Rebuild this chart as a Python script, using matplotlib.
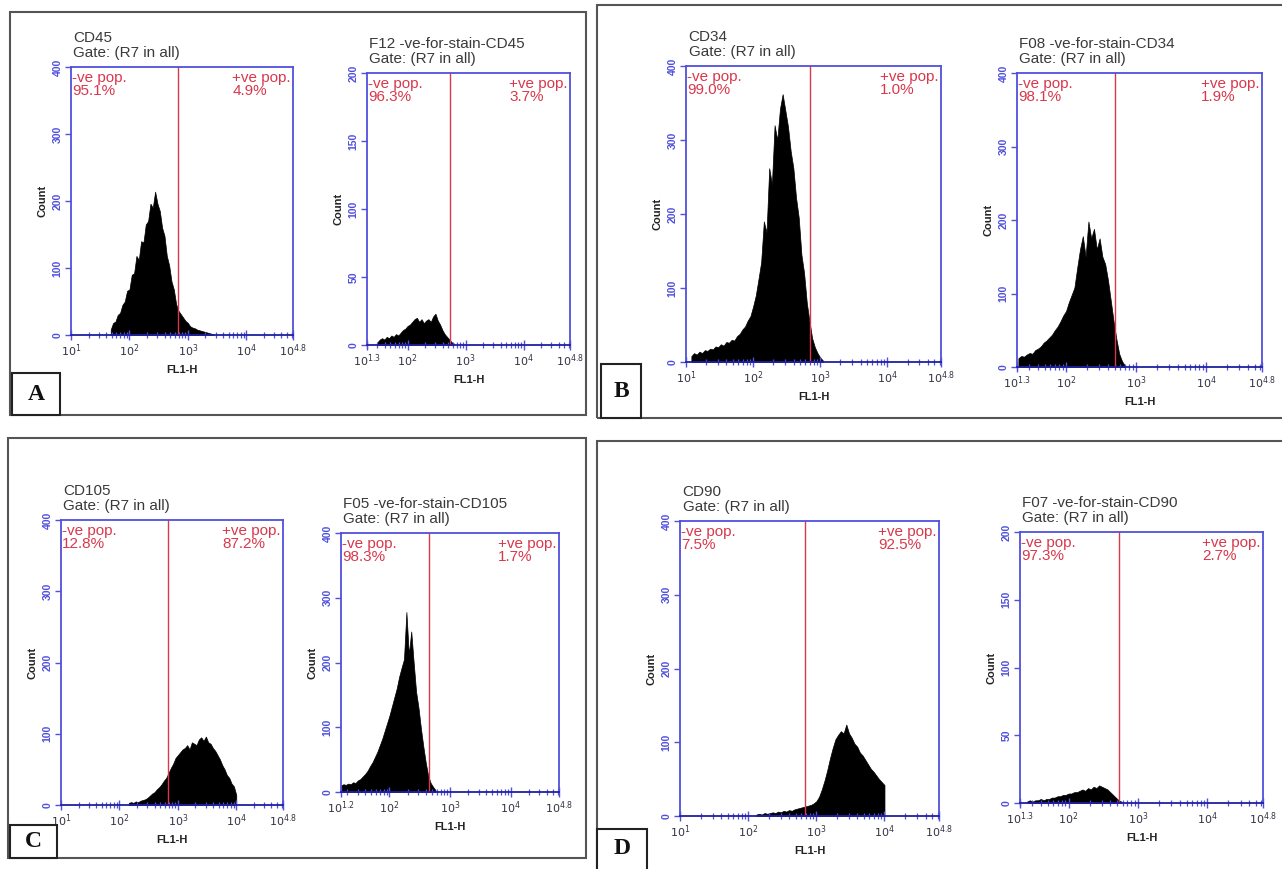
import numpy as np
import matplotlib
matplotlib.use("Agg")
import matplotlib.pyplot as plt
from matplotlib.patches import Rectangle
from matplotlib.ticker import FixedLocator, NullFormatter

plt.rcParams['font.family'] = ['Liberation Sans', 'DejaVu Sans']

# ---------------- data ----------------
STEP = 0.04  # histogram channel width in log10 units

titles = ["CD45", "F12 -ve-for-stain-CD45", "CD34", "F08 -ve-for-stain-CD34",
          "CD105", "F05 -ve-for-stain-CD105", "CD90", "F07 -ve-for-stain-CD90"]
neg_pct = ["95.1%", "96.3%", "99.0%", "98.1%", "12.8%", "98.3%", "7.5%", "97.3%"]
pos_pct = ["4.9%", "3.7%", "1.0%", "1.9%", "87.2%", "1.7%", "92.5%", "2.7%"]
gate_log = [2.83, 2.73, 2.85, 2.70, 2.83, 2.66, 2.83, 2.73]
x_min_log = [1.0, 1.3, 1.0, 1.3, 1.0, 1.2, 1.0, 1.3]
x_max_log = 4.8
y_max = [400, 200, 400, 400, 400, 400, 400, 200]
y_ticks = [[0, 100, 200, 300, 400], [0, 50, 100, 150, 200],
           [0, 100, 200, 300, 400], [0, 100, 200, 300, 400],
           [0, 100, 200, 300, 400], [0, 100, 200, 300, 400],
           [0, 100, 200, 300, 400], [0, 50, 100, 150, 200]]
panel_letters = ["A", "B", "C", "D"]

# histogram start (log10 FL1-H) and counts per channel
cd45_start = 1.68
cd45_counts = [8, 18, 20, 30, 33, 45, 50, 66, 68, 90, 92, 118, 112, 140, 138, 165,
               170, 196, 190, 214, 196, 185, 160, 148, 118, 104, 80, 68, 46, 36, 31,
               26, 21, 18, 13, 11, 10, 8, 7, 6, 5, 4, 3, 2, 1]
f12_start = 1.48
f12_counts = [2, 4, 5, 4, 6, 5, 7, 6, 8, 7, 9, 11, 12, 14, 15, 17, 19, 20, 17, 19,
              16, 18, 19, 17, 21, 23, 18, 15, 11, 8, 6, 4, 2, 1]
cd34_start = 1.08
cd34_counts = [8, 12, 10, 14, 12, 16, 15, 18, 17, 21, 20, 24, 22, 27, 26, 30, 29, 35,
               38, 44, 48, 56, 62, 75, 90, 112, 135, 190, 175, 262, 240, 320, 300,
               342, 362, 340, 318, 285, 262, 222, 195, 145, 120, 80, 55, 32, 20, 12,
               6, 2]
f08_start = 1.32
f08_counts = [12, 15, 14, 17, 19, 18, 23, 25, 28, 33, 36, 40, 44, 50, 55, 62, 70, 76,
              88, 98, 108, 135, 160, 178, 150, 198, 175, 188, 160, 175, 150, 140, 118,
              90, 62, 38, 18, 8, 2]
cd105_start = 2.16
cd105_counts = [3, 4, 3, 5, 4, 6, 7, 8, 10, 13, 16, 18, 22, 25, 29, 34, 38, 45, 52, 58,
                66, 70, 74, 78, 80, 84, 78, 88, 86, 84, 92, 95, 90, 96, 88, 86, 80, 76,
                70, 64, 56, 50, 42, 38, 30, 26, 14]
f05_start = 1.20
f05_counts = [10, 12, 11, 13, 12, 15, 14, 18, 20, 24, 28, 33, 40, 46, 54, 62, 72, 82,
              94, 106, 118, 132, 146, 160, 178, 192, 205, 278, 212, 248, 200, 155, 130,
              98, 70, 45, 25, 14, 8, 3]
cd90_start = 2.12
cd90_counts = [2, 3, 2, 4, 3, 4, 5, 4, 6, 5, 7, 6, 8, 7, 9, 10, 11, 12, 13, 14, 15, 17,
               20, 26, 36, 48, 62, 78, 92, 104, 110, 115, 112, 124, 112, 106, 98, 94,
               86, 82, 76, 70, 64, 60, 55, 50, 46, 42]
f07_start = 1.40
f07_counts = [1, 2, 1, 2, 2, 3, 2, 3, 3, 4, 4, 5, 5, 6, 6, 7, 7, 8, 8, 9, 10, 9, 11, 10,
              12, 11, 13, 12, 11, 10, 8, 6, 4, 2, 1]

hist_starts = [cd45_start, f12_start, cd34_start, f08_start,
               cd105_start, f05_start, cd90_start, f07_start]
hist_counts = [cd45_counts, f12_counts, cd34_counts, f08_counts,
               cd105_counts, f05_counts, cd90_counts, f07_counts]

# ---------------- layout (pixels of 1282x869 image) ----------------
W, H = 1282, 869
axes_px = [(71, 67, 293, 335), (367, 73, 570, 345),
           (686, 66, 941, 362), (1017, 73, 1262, 367),
           (61, 520, 283, 805), (341, 533, 559, 792),
           (680, 521, 939, 816), (1020, 532, 1263, 803)]
panel_px = [(10, 12, 586, 415), (597, 5, 1290, 418),
            (8, 438, 586, 858), (597, 441, 1290, 880)]
letter_px = [(12, 373, 60, 415), (601, 364, 641, 418),
             (10, 825, 57, 858), (597, 829, 647, 880)]

BLUE = "#5050dd"
NAVY = "#2020a0"
RED = "#d8384c"

fig = plt.figure(figsize=(W / 100, H / 100), dpi=100)
fig.patch.set_facecolor("white")


def frac_rect(x0, y0, x1, y1):
    return (x0 / W, 1 - y1 / H, (x1 - x0) / W, (y1 - y0) / H)


def lab(v):
    e = np.log10(v)
    if abs(e - round(e)) < 1e-6:
        return r"$10^{%d}$" % round(e)
    return r"$10^{%.1f}$" % e


for i in range(8):
    l, b, w, h = frac_rect(*axes_px[i])
    hpx = axes_px[i][3] - axes_px[i][1]
    ax = fig.add_axes([l, b, w, h])
    xs = 10 ** (hist_starts[i] + STEP * np.arange(len(hist_counts[i])))
    ax.fill_between(xs, hist_counts[i], 0, color="black", lw=0.5, edgecolor="black")
    ax.set_xscale("log")
    xlo = 10 ** x_min_log[i]
    xhi = 10 ** x_max_log
    ax.set_xlim(xlo, xhi)
    ax.set_ylim(0, y_max[i])
    ax.axvline(10 ** gate_log[i], color=RED, lw=1.0)

    major = [xlo] + [10 ** k for k in (2, 3, 4)] + [xhi]
    ax.xaxis.set_major_locator(FixedLocator(major))
    ax.set_xticklabels([lab(v) for v in major])
    minors = [m * 10 ** k for k in range(1, 5) for m in range(2, 10)
              if xlo < m * 10 ** k < xhi]
    ax.xaxis.set_minor_locator(FixedLocator(minors))
    ax.xaxis.set_minor_formatter(NullFormatter())
    ax.tick_params(axis="x", which="major", direction="inout", length=7, width=1.0,
                   color=BLUE, labelsize=8, labelcolor="#333344", pad=2)
    ax.tick_params(axis="x", which="minor", direction="inout", length=5, width=0.9,
                   color=BLUE)
    ax.set_yticks(y_ticks[i])
    ax.tick_params(axis="y", direction="out", length=4, width=1.0, color=BLUE,
                   labelsize=7.5, labelcolor=BLUE, pad=2)
    for t in ax.get_yticklabels():
        t.set_rotation(90)
        t.set_va("center")
        t.set_fontweight("bold")
    for s in ("top", "right", "left"):
        ax.spines[s].set_color(BLUE)
        ax.spines[s].set_linewidth(1.3)
    ax.spines["bottom"].set_color(NAVY)
    ax.spines["bottom"].set_linewidth(1.3)

    ax.set_xlabel("FL1-H", fontsize=8, fontweight="bold", color="#222222", labelpad=4)
    ax.set_ylabel("Count", fontsize=8, fontweight="bold", color="#222222", labelpad=4)

    ax.text(0.01, 1 + 7 / hpx, titles[i] + "\nGate: (R7 in all)",
            transform=ax.transAxes, ha="left", va="bottom", fontsize=11,
            color="#3a3a3a", linespacing=1.1)
    ax.text(0.005, 1 - 4 / hpx, "-ve pop.\n" + neg_pct[i], transform=ax.transAxes,
            ha="left", va="top", fontsize=11, color=RED, linespacing=0.95)
    ax.text(0.99, 1 - 4 / hpx, "+ve pop.\n" + pos_pct[i], transform=ax.transAxes,
            ha="right", va="top", fontsize=11, color=RED, linespacing=0.95,
            multialignment="left")

for j in range(4):
    x0, y0, x1, y1 = panel_px[j]
    fig.add_artist(Rectangle((x0 / W, 1 - y1 / H), (x1 - x0) / W, (y1 - y0) / H,
                             transform=fig.transFigure, fill=False,
                             edgecolor="#555555", lw=1.5))
    x0, y0, x1, y1 = letter_px[j]
    fig.add_artist(Rectangle((x0 / W, 1 - y1 / H), (x1 - x0) / W, (y1 - y0) / H,
                             transform=fig.transFigure, fill=True, facecolor="white",
                             edgecolor="#222222", lw=1.5))
    fig.text((x0 + x1) / 2 / W, 1 - (y0 + min(y1, H)) / 2 / H, panel_letters[j],
             ha="center", va="center", fontsize=17, fontweight="bold",
             family=["Liberation Serif", "DejaVu Serif"], color="#111111")

fig.savefig("out.png", dpi=100, facecolor="white")
